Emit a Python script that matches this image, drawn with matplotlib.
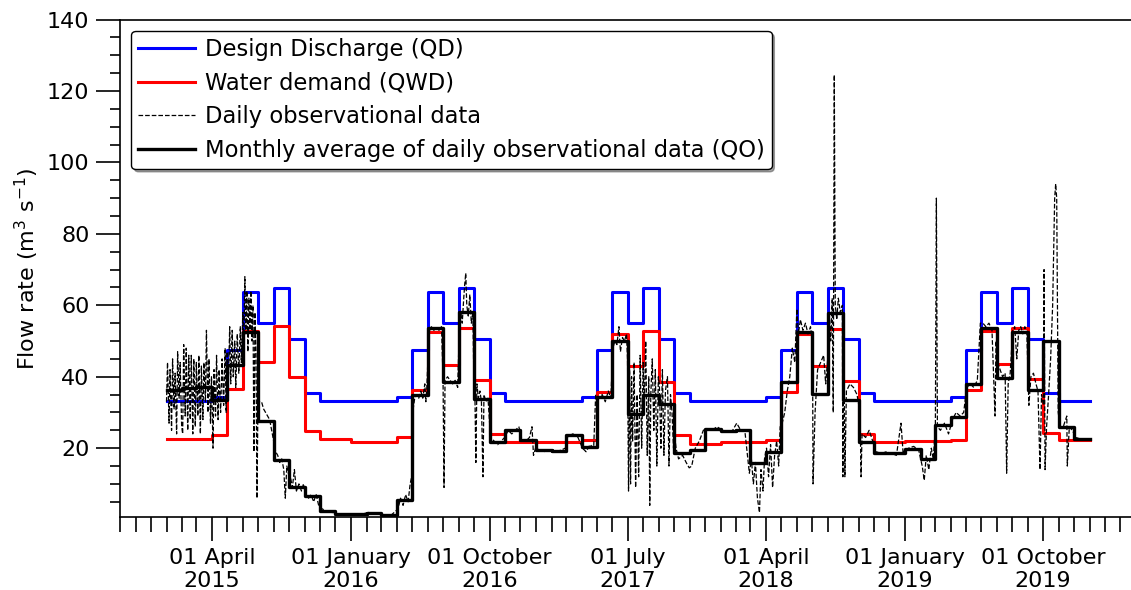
import matplotlib
matplotlib.use("Agg")
import matplotlib.pyplot as plt
import matplotlib.dates as mdates
import pandas as pd

# monthly steps, Jan 2015 .. Dec 2019
qd = [
    33.2, 33.2, 33.2, 34.4, 47.5, 63.8, 55.0, 64.8, 50.5, 35.5, 33.2, 33.2,  # 2015
    33.2, 33.2, 33.2, 34.4, 47.5, 63.8, 55.0, 64.8, 50.5, 35.5, 33.2, 33.2,  # 2016
    33.2, 33.2, 33.2, 34.4, 47.5, 63.8, 55.0, 64.8, 50.5, 35.5, 33.2, 33.2,  # 2017
    33.2, 33.2, 33.2, 34.4, 47.5, 63.8, 55.0, 64.8, 50.5, 35.5, 33.2, 33.2,  # 2018
    33.2, 33.2, 33.2, 34.4, 47.5, 63.8, 55.0, 64.8, 50.5, 35.5, 33.2, 33.2,  # 2019
]
qwd = [
    22.5, 22.5, 22.5, 23.6, 36.7, 52.9, 44.2, 54.2, 39.8, 24.9, 22.5, 22.5,
    21.8, 21.8, 21.8, 23.0, 36.3, 52.6, 43.3, 53.6, 39.2, 24.1, 21.8, 21.8,
    21.8, 21.8, 21.8, 22.4, 35.8, 52.0, 43.0, 52.9, 38.4, 23.6, 21.3, 21.3,
    21.8, 21.8, 21.8, 22.4, 35.8, 52.1, 43.0, 53.3, 38.9, 23.9, 21.6, 21.6,
    22.0, 22.0, 22.0, 22.4, 36.4, 52.9, 43.5, 53.6, 39.3, 24.3, 22.2, 22.2,
]
qo = [
    36.2, 36.8, 37.2, 33.5, 43.3, 52.6, 27.6, 16.8, 9.2, 6.5, 2.4, 1.5,
    1.5, 1.8, 1.3, 5.6, 34.9, 53.6, 38.6, 58.2, 33.9, 21.8, 25.0, 22.2,
    19.4, 19.2, 23.6, 20.2, 34.4, 49.9, 29.7, 34.9, 32.5, 18.7, 19.6, 25.5,
    24.9, 25.2, 15.9, 19.0, 38.6, 52.6, 35.3, 57.9, 33.5, 21.8, 18.7, 18.7,
    19.8, 16.9, 26.4, 28.8, 37.9, 53.6, 39.7, 52.6, 36.3, 49.9, 26.0, 22.7,
]

obs_daily = [
    ("2015-01-01", 33), ("2015-01-03", 44), ("2015-01-06", 27), ("2015-01-08", 42), ("2015-01-11", 25),
    ("2015-01-13", 45), ("2015-01-16", 31), ("2015-01-18", 41), ("2015-01-21", 24), ("2015-01-23", 47),
    ("2015-01-26", 34), ("2015-01-28", 44), ("2015-01-31", 26),
    ("2015-02-02", 24), ("2015-02-04", 49), ("2015-02-07", 29), ("2015-02-09", 48), ("2015-02-12", 25),
    ("2015-02-14", 46), ("2015-02-17", 28), ("2015-02-19", 46), ("2015-02-22", 24), ("2015-02-24", 45),
    ("2015-02-27", 26),
    ("2015-03-01", 44), ("2015-03-04", 29), ("2015-03-06", 46), ("2015-03-09", 24), ("2015-03-11", 43),
    ("2015-03-14", 28), ("2015-03-16", 44), ("2015-03-19", 33), ("2015-03-21", 53), ("2015-03-24", 30),
    ("2015-03-26", 45), ("2015-03-29", 27), ("2015-03-31", 40),
    ("2015-04-03", 20), ("2015-04-05", 42), ("2015-04-08", 29), ("2015-04-10", 46), ("2015-04-13", 28),
    ("2015-04-15", 42), ("2015-04-18", 30), ("2015-04-21", 45), ("2015-04-24", 32), ("2015-04-27", 48),
    ("2015-04-29", 30),
    ("2015-05-01", 47), ("2015-05-03", 36), ("2015-05-06", 54), ("2015-05-08", 38), ("2015-05-11", 53),
    ("2015-05-13", 40), ("2015-05-16", 50), ("2015-05-18", 37), ("2015-05-21", 52), ("2015-05-24", 41),
    ("2015-05-27", 54), ("2015-05-29", 44),
    ("2015-06-01", 58), ("2015-06-03", 50), ("2015-06-05", 68), ("2015-06-07", 52), ("2015-06-09", 64),
    ("2015-06-11", 47), ("2015-06-13", 62), ("2015-06-15", 53), ("2015-06-17", 64), ("2015-06-19", 50),
    ("2015-06-21", 60), ("2015-06-23", 19), ("2015-06-25", 58), ("2015-06-27", 47), ("2015-06-29", 6),
    ("2015-07-01", 34), ("2015-07-04", 33), ("2015-07-08", 33), ("2015-07-12", 31), ("2015-07-16", 30),
    ("2015-07-20", 29), ("2015-07-24", 28), ("2015-07-28", 25),
    ("2015-08-01", 22), ("2015-08-05", 19), ("2015-08-09", 18), ("2015-08-13", 16), ("2015-08-17", 17),
    ("2015-08-21", 14), ("2015-08-24", 6), ("2015-08-27", 15), ("2015-08-30", 13),
    ("2015-09-03", 12), ("2015-09-07", 9), ("2015-09-11", 14), ("2015-09-15", 8), ("2015-09-20", 10),
    ("2015-09-25", 8), ("2015-09-29", 10),
    ("2015-10-04", 7), ("2015-10-09", 6), ("2015-10-14", 7), ("2015-10-19", 5), ("2015-10-24", 7),
    ("2015-10-29", 4),
    ("2015-11-05", 3), ("2015-11-12", 2.5), ("2015-11-20", 2), ("2015-11-28", 2),
    ("2015-12-08", 1.6), ("2015-12-20", 1.4),
    ("2016-01-05", 1.5), ("2016-01-20", 1.5), ("2016-02-05", 2.0), ("2016-02-20", 1.8),
    ("2016-03-05", 1.3), ("2016-03-20", 1.2),
    ("2016-04-03", 3), ("2016-04-08", 6), ("2016-04-13", 4), ("2016-04-18", 7), ("2016-04-23", 5),
    ("2016-04-27", 10), ("2016-04-30", 12),
    ("2016-05-02", 30), ("2016-05-06", 34), ("2016-05-10", 35), ("2016-05-14", 34), ("2016-05-18", 36),
    ("2016-05-22", 34), ("2016-05-26", 38), ("2016-05-28", 33), ("2016-05-30", 37),
    ("2016-06-03", 52), ("2016-06-08", 54), ("2016-06-13", 53), ("2016-06-18", 54), ("2016-06-23", 53),
    ("2016-06-28", 54),
    ("2016-07-01", 40), ("2016-07-03", 9), ("2016-07-05", 39), ("2016-07-10", 40), ("2016-07-15", 39),
    ("2016-07-20", 38), ("2016-07-25", 39), ("2016-07-30", 37),
    ("2016-08-02", 52), ("2016-08-05", 58), ("2016-08-08", 55), ("2016-08-11", 62), ("2016-08-13", 66),
    ("2016-08-15", 69), ("2016-08-17", 60), ("2016-08-20", 57), ("2016-08-23", 63), ("2016-08-26", 55),
    ("2016-08-29", 58), ("2016-08-31", 40),
    ("2016-09-02", 36), ("2016-09-04", 16), ("2016-09-06", 38), ("2016-09-09", 34), ("2016-09-12", 36),
    ("2016-09-15", 33), ("2016-09-18", 12), ("2016-09-20", 35), ("2016-09-24", 33), ("2016-09-28", 34),
    ("2016-10-03", 23), ("2016-10-10", 22), ("2016-10-17", 21), ("2016-10-24", 22), ("2016-10-31", 23),
    ("2016-11-07", 25), ("2016-11-14", 24), ("2016-11-21", 25), ("2016-11-28", 26),
    ("2016-12-05", 22), ("2016-12-12", 22), ("2016-12-19", 23), ("2016-12-24", 26), ("2016-12-27", 18),
    ("2016-12-31", 20),
    ("2017-01-08", 19.5), ("2017-01-16", 19), ("2017-01-24", 19.5), ("2017-02-01", 19), ("2017-02-10", 19),
    ("2017-02-20", 19.5), ("2017-02-28", 20),
    ("2017-03-05", 23.5), ("2017-03-15", 24), ("2017-03-25", 23),
    ("2017-04-03", 20), ("2017-04-10", 19), ("2017-04-18", 21), ("2017-04-25", 20), ("2017-04-29", 35),
    ("2017-05-05", 34), ("2017-05-12", 35), ("2017-05-18", 33), ("2017-05-24", 36), ("2017-05-29", 34),
    ("2017-06-02", 48), ("2017-06-06", 50), ("2017-06-10", 49), ("2017-06-14", 54), ("2017-06-17", 47),
    ("2017-06-21", 51), ("2017-06-25", 50), ("2017-06-29", 52),
    ("2017-07-01", 45), ("2017-07-03", 8), ("2017-07-05", 42), ("2017-07-07", 10), ("2017-07-09", 40),
    ("2017-07-11", 22), ("2017-07-14", 44), ("2017-07-17", 9), ("2017-07-20", 35), ("2017-07-23", 12),
    ("2017-07-26", 46), ("2017-07-29", 20),
    ("2017-08-01", 44), ("2017-08-03", 30), ("2017-08-06", 50), ("2017-08-09", 18), ("2017-08-12", 40),
    ("2017-08-14", 4), ("2017-08-16", 35), ("2017-08-19", 45), ("2017-08-22", 25), ("2017-08-25", 42),
    ("2017-08-28", 15), ("2017-08-31", 40),
    ("2017-09-02", 38), ("2017-09-05", 20), ("2017-09-08", 42), ("2017-09-11", 18), ("2017-09-14", 36),
    ("2017-09-18", 40), ("2017-09-21", 15), ("2017-09-24", 35), ("2017-09-27", 30), ("2017-09-30", 20),
    ("2017-10-02", 24), ("2017-10-05", 20), ("2017-10-10", 17), ("2017-10-18", 18), ("2017-10-25", 16),
    ("2017-10-31", 14.5),
    ("2017-11-05", 15), ("2017-11-12", 20), ("2017-11-20", 22), ("2017-11-28", 25),
    ("2017-12-05", 25.5), ("2017-12-15", 25), ("2017-12-25", 26),
    ("2018-01-05", 25), ("2018-01-15", 24.5), ("2018-01-25", 25), ("2018-02-02", 27), ("2018-02-10", 25),
    ("2018-02-18", 25), ("2018-02-24", 17), ("2018-02-27", 13),
    ("2018-03-03", 17), ("2018-03-07", 10), ("2018-03-11", 16), ("2018-03-15", 6), ("2018-03-19", 2),
    ("2018-03-22", 14), ("2018-03-26", 8), ("2018-03-29", 17),
    ("2018-04-02", 20), ("2018-04-06", 12), ("2018-04-10", 21), ("2018-04-14", 9), ("2018-04-18", 18),
    ("2018-04-22", 22), ("2018-04-26", 15), ("2018-04-29", 26),
    ("2018-05-03", 27), ("2018-05-08", 30), ("2018-05-13", 36), ("2018-05-18", 40), ("2018-05-23", 48),
    ("2018-05-28", 44),
    ("2018-06-01", 59), ("2018-06-04", 52), ("2018-06-08", 56), ("2018-06-13", 53), ("2018-06-18", 55),
    ("2018-06-23", 52), ("2018-06-28", 54),
    ("2018-07-02", 50), ("2018-07-03", 10), ("2018-07-07", 30), ("2018-07-12", 42), ("2018-07-18", 44),
    ("2018-07-24", 46), ("2018-07-28", 38),
    ("2018-08-01", 45), ("2018-08-04", 58), ("2018-08-07", 50), ("2018-08-10", 62), ("2018-08-12", 30),
    ("2018-08-14", 124.5), ("2018-08-16", 60), ("2018-08-19", 56), ("2018-08-22", 62), ("2018-08-26", 58),
    ("2018-08-30", 60), ("2018-08-31", 12),
    ("2018-09-02", 55), ("2018-09-04", 12), ("2018-09-07", 36), ("2018-09-14", 38), ("2018-09-21", 37),
    ("2018-09-28", 35),
    ("2018-10-04", 30), ("2018-10-06", 12), ("2018-10-08", 24), ("2018-10-15", 23), ("2018-10-22", 25),
    ("2018-10-29", 22),
    ("2018-11-05", 19), ("2018-11-15", 18.5), ("2018-11-25", 19),
    ("2018-12-05", 18.5), ("2018-12-15", 18), ("2018-12-24", 27), ("2018-12-28", 19),
    ("2019-01-08", 20), ("2019-01-18", 20.5), ("2019-01-28", 19.5),
    ("2019-02-04", 15), ("2019-02-08", 11), ("2019-02-12", 18), ("2019-02-17", 14), ("2019-02-22", 20),
    ("2019-02-26", 17), ("2019-03-02", 26), ("2019-03-04", 90), ("2019-03-06", 26),
    ("2019-03-12", 25), ("2019-03-20", 27), ("2019-03-28", 24),
    ("2019-04-05", 28), ("2019-04-12", 30), ("2019-04-20", 29), ("2019-04-27", 30),
    ("2019-05-03", 37), ("2019-05-10", 38), ("2019-05-17", 37), ("2019-05-24", 39), ("2019-05-30", 55),
    ("2019-06-04", 55), ("2019-06-10", 54), ("2019-06-16", 55), ("2019-06-22", 53), ("2019-06-28", 29),
    ("2019-06-30", 50),
    ("2019-07-03", 44), ("2019-07-08", 42), ("2019-07-13", 40), ("2019-07-18", 41), ("2019-07-21", 13),
    ("2019-07-24", 38), ("2019-07-28", 41),
    ("2019-08-02", 53), ("2019-08-06", 54), ("2019-08-10", 45), ("2019-08-14", 53), ("2019-08-18", 54),
    ("2019-08-22", 52), ("2019-08-26", 54), ("2019-08-30", 52),
    ("2019-09-03", 32), ("2019-09-07", 40), ("2019-09-12", 41), ("2019-09-17", 38), ("2019-09-21", 36),
    ("2019-09-25", 14), ("2019-09-28", 35),
    ("2019-10-02", 32), ("2019-10-03", 70), ("2019-10-05", 14), ("2019-10-08", 26), ("2019-10-12", 35),
    ("2019-10-16", 45), ("2019-10-20", 60), ("2019-10-24", 90), ("2019-10-26", 94), ("2019-10-28", 90),
    ("2019-10-31", 30),
    ("2019-11-04", 26), ("2019-11-10", 26), ("2019-11-17", 29), ("2019-11-18", 15), ("2019-11-22", 26),
    ("2019-11-28", 25),
    ("2019-12-05", 23), ("2019-12-15", 22.5), ("2019-12-25", 22.5), ("2019-12-31", 22.5),
]

major_dates = ["2015-04-01", "2016-01-01", "2016-10-01", "2017-07-01",
               "2018-04-01", "2019-01-01", "2019-10-01"]


def main():
    months = pd.date_range("2015-01-01", "2020-01-01", freq="MS")
    obs_t = pd.to_datetime([d for d, v in obs_daily])
    obs_v = [v for d, v in obs_daily]

    fig = plt.figure(figsize=(11.31, 5.90), dpi=100)
    ax = fig.add_axes([0.1061, 0.1229, 0.8939, 0.8440])

    ax.step(months, qd + [qd[-1]], where="post", color="blue", lw=2.2,
            label="Design Discharge (QD)")
    ax.step(months, qwd + [qwd[-1]], where="post", color="red", lw=2.2,
            label="Water demand (QWD)")
    ax.plot(obs_t, obs_v, color="black", lw=0.9, ls="--",
            label="Daily observational data")
    ax.step(months, qo + [qo[-1]], where="post", color="black", lw=2.4,
            label="Monthly average of daily observational data (QO)")

    ax.set_xlim(pd.Timestamp("2014-10-01"), pd.Timestamp("2020-03-23"))
    ax.set_ylim(0.6, 140)

    ax.set_xticks(pd.to_datetime(major_dates))
    ax.xaxis.set_major_formatter(mdates.DateFormatter("%d %B\n%Y"))
    ax.xaxis.set_minor_locator(mdates.MonthLocator())
    ax.set_yticks([20, 40, 60, 80, 100, 120, 140])
    ax.yaxis.set_minor_locator(plt.MultipleLocator(5))

    ax.tick_params(axis="both", which="major", length=17, width=1.2,
                   labelsize=16, pad=5)
    ax.tick_params(axis="x", which="minor", length=10.5, width=1.2)
    ax.tick_params(axis="y", which="minor", length=7.5, width=1.2)
    for side in ["left", "bottom", "top"]:
        ax.spines[side].set_linewidth(1.2)
    ax.spines["right"].set_visible(False)

    ax.set_ylabel("Flow rate (m$^3$ s$^{-1}$)", fontsize=16)

    leg = ax.legend(loc="upper left", fontsize=16.3, shadow=True, fancybox=True,
                    framealpha=1, edgecolor="black", handlelength=2.5,
                    handletextpad=0.45, labelspacing=0.48, borderpad=0.3,
                    borderaxespad=0.5)
    leg.get_frame().set_linewidth(1.0)

    fig.savefig("out.png", dpi=100)


if __name__ == "__main__":
    main()
